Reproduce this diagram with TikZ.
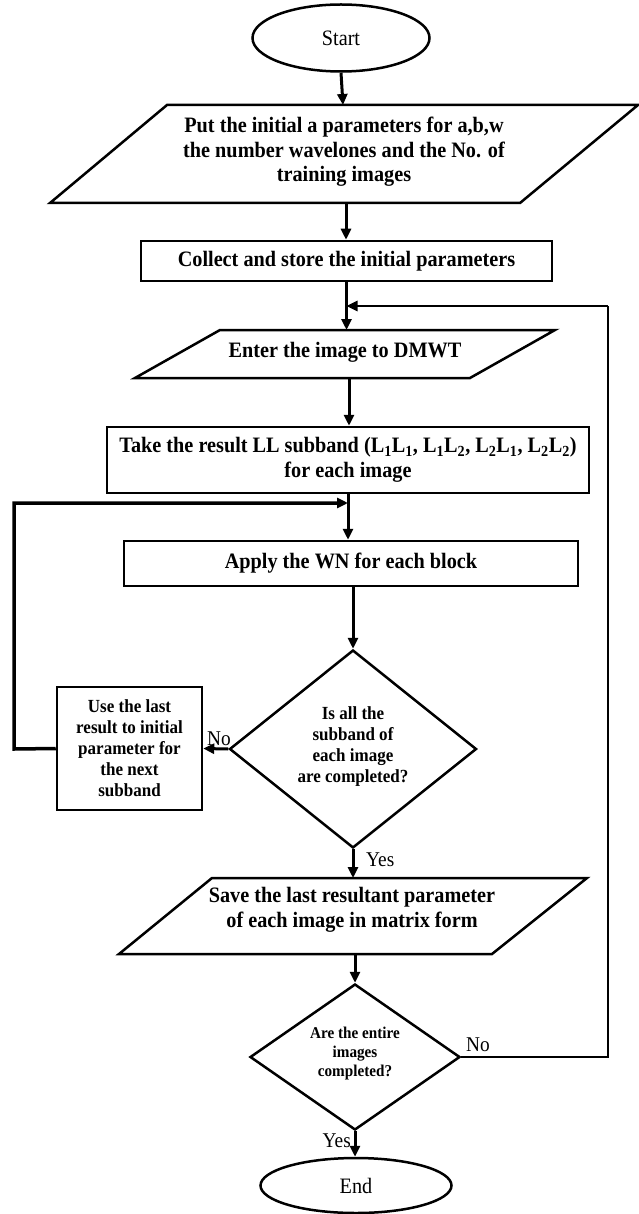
\documentclass[tikz,border=0pt]{standalone}
\usepackage{fontspec}
\setmainfont[FakeStretch=0.92]{Liberation Serif}
\usetikzlibrary{shapes.geometric,arrows.meta}
\begin{document}
\begin{tikzpicture}[x=1pt,y=-1pt,
  outl/.style={draw,line width=2.5pt,line join=miter},
  bt/.style={font=\bfseries\fontsize{22}{24.5}\selectfont,align=center},
  st/.style={font=\bfseries\fontsize{18.5}{21}\selectfont,align=center},
  sst/.style={font=\bfseries\fontsize{16.5}{19}\selectfont,align=center},
  lab/.style={font=\fontsize{21}{22}\selectfont,inner sep=0},
  box/.style={outl,rectangle,inner sep=0,bt},
  term/.style={outl,ellipse,inner sep=0,font=\fontsize{22}{24}\selectfont},
  dec/.style={outl,diamond,inner sep=0},
  arr/.style={line width=3pt,-{Triangle[length=11pt,width=10pt]}},
  lin/.style={line width=2.5pt}]
\useasboundingbox (0,0) rectangle (639,1214);

% Start
\node[term,minimum width=177pt,minimum height=67pt] (start) at (341,38) {Start};

% Parallelogram 1
\draw[outl] (167,105) -- (638,105) -- (520,203) -- (50,203) -- cycle;
\node[bt] (p1) at (344,152) {Put the initial a parameters for a,b,w\\the number wavelones and the No. of\\training images};
\coordinate (p1n) at (343,105);
\coordinate (p1s) at (346,203);

% Collect
\node[box,minimum width=411pt,minimum height=40pt] (collect) at (346.5,261) {Collect and store the initial parameters};

% Enter
\draw[outl] (220,330) -- (555,330) -- (470,378) -- (135,378) -- cycle;
\node[bt] (enter) at (345,352) {Enter the image to DMWT};
\coordinate (entn) at (346.5,330);
\coordinate (ents) at (349,378);
\coordinate (j1) at (346.5,306);

% Take
\node[box,minimum width=482pt,minimum height=66pt] (take) at (348,460) {Take the result LL subband (L\textsubscript{1}L\textsubscript{1}, L\textsubscript{1}L\textsubscript{2}, L\textsubscript{2}L\textsubscript{1}, L\textsubscript{2}L\textsubscript{2})\\for each image};
\coordinate (j2) at (348,503);

% Apply
\node[box,minimum width=454pt,minimum height=45pt] (apply) at (351,563.5) {Apply the WN for each block};

% Decision 1
\node[dec,aspect=1.25,minimum width=247pt,minimum height=198pt] (d1) at (353,749) {};
\node[st] (d1t) at (353,747) {Is all the\\subband of\\each image\\are completed?};

% Use box
\node[outl,rectangle,inner sep=0,st,minimum width=145pt,minimum height=123pt] (use) at (129.5,748.5) {Use the last\\result to initial\\parameter for\\the next\\subband};

% Save
\draw[outl] (212,878) -- (587,878) -- (492,954) -- (119,954) -- cycle;
\node[bt] (save) at (352,910) {Save the last resultant parameter\\of each image in matrix form};
\coordinate (saven) at (353,878);
\coordinate (saves) at (355,954);

% Decision 2
\node[dec,aspect=1.44,minimum width=210pt,minimum height=146pt] (d2) at (355,1057) {};
\node[sst] (d2t) at (355,1054) {Are the entire\\images\\completed?};

% End
\node[term,minimum width=191pt,minimum height=55pt] (end) at (356,1185.5) {End};

% Connectors
\draw[arr] (start.south) -- (p1n);
\draw[arr] (p1s) -- (p1s |- collect.north);
\draw[lin,line width=3pt] (collect.south -| entn) -- (j1);
\draw[arr] (j1) -- (entn);
\draw[arr] (ents) -- (ents |- take.north);
\draw[arr] (take.south) -- (take.south |- apply.north);
\draw[arr] (d1.north |- apply.south) -- (d1.north);
\draw[arr] (d1.west) -- (use.east);
\node[lab,anchor=south] (no1) at (219,746) {No};
\draw[line width=3.5pt,-{Triangle[length=11pt,width=10pt]}] (use.west) -- (14,749) -- (14,503) -- (j2);
\draw[arr] (d1.south) -- (saven);
\node[lab,anchor=west] (yes1) at (366,860) {Yes};
\draw[arr] (saves) -- (d2.north);
\draw[lin] (d2.east) -- (608,1057) -- (608,306) coordinate (rc);
\draw[lin,-{Triangle[length=11pt,width=10pt]}] (rc) -- (j1);
\node[lab,anchor=south west] (no2) at (466,1052) {No};
\draw[arr] (d2.south) -- (d2.south |- end.north);
\node[lab,anchor=east] (yes2) at (351,1141) {Yes};
\end{tikzpicture}
\end{document}
